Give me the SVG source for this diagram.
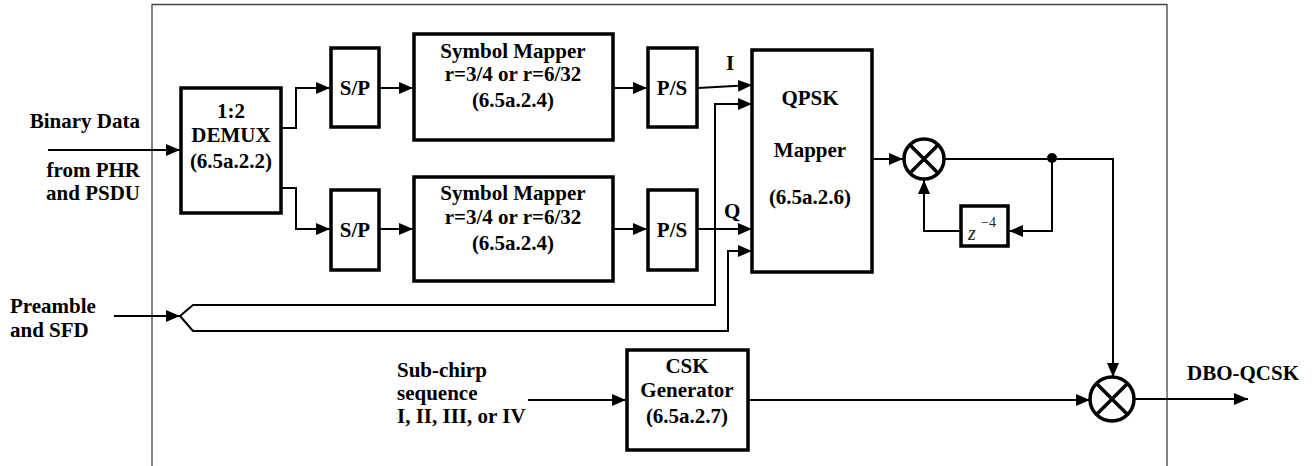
<svg xmlns="http://www.w3.org/2000/svg" width="1314" height="466" viewBox="0 0 1314 466">
<style>
.t{font-family:"Liberation Serif","Times New Roman",serif;font-weight:bold;font-size:21px;fill:#000}
.c{text-anchor:middle}
.b{fill:#fff;stroke:#000;stroke-width:3.5}
.w{fill:none;stroke:#000;stroke-width:2}
.m{fill:#fff;stroke:#000;stroke-width:3.5}
</style>
<defs>
<marker id="ah" viewBox="0 0 14 12" refX="14" refY="6" markerWidth="14" markerHeight="12" markerUnits="userSpaceOnUse" orient="auto">
<path d="M0,0 L14,6 L0,12 Z" fill="#000"/>
</marker>
</defs>
<path d="M152,466 V4.5 H1167 V466" fill="none" stroke="#444" stroke-width="1.3"/>
<g id="connectors">
<path class="w" d="M48,150 H180" marker-end="url(#ah)"/>
<path class="w" d="M282,128 H296 V88 H330" marker-end="url(#ah)"/>
<path class="w" d="M282,188 H296 V229 H330" marker-end="url(#ah)"/>
<path class="w" d="M380,88 H413" marker-end="url(#ah)"/>
<path class="w" d="M380,229 H413" marker-end="url(#ah)"/>
<path class="w" d="M614,88 H647" marker-end="url(#ah)"/>
<path class="w" d="M614,229 H647" marker-end="url(#ah)"/>
<path class="w" d="M698,88 L752,85" marker-end="url(#ah)"/>
<path class="w" d="M698,229 H752" marker-end="url(#ah)"/>
<path class="w" d="M114,316 H180" marker-end="url(#ah)"/>
<path class="w" d="M180,316 L193,305 H715 V104 H752" marker-end="url(#ah)"/>
<path class="w" d="M180,316 L193,331 H728 V251 H752" marker-end="url(#ah)"/>
<path class="w" d="M873,159 H903" marker-end="url(#ah)"/>
<path class="w" d="M945,159 H1113 V377" marker-end="url(#ah)"/>
<path class="w" d="M1052,159 V231 H1009" marker-end="url(#ah)"/>
<path class="w" d="M961,231 H924 V180" marker-end="url(#ah)"/>
<circle cx="1052" cy="158" r="5" fill="#000"/>
<path class="w" d="M528,400 H626" marker-end="url(#ah)"/>
<path class="w" d="M749,400 H1090" marker-end="url(#ah)"/>
<path class="w" d="M1135,399 H1248" marker-end="url(#ah)"/>
</g>
<g id="in-binary">
<text class="t" x="140" y="128" text-anchor="end">Binary Data</text>
<text class="t" x="140" y="177" text-anchor="end">from PHR</text>
<text class="t" x="140" y="200" text-anchor="end">and PSDU</text>
</g>
<g id="in-preamble">
<text class="t" x="10" y="313">Preamble</text>
<text class="t" x="10" y="337">and SFD</text>
</g>
<g id="in-subchirp">
<text class="t" x="397" y="377">Sub-chirp</text>
<text class="t" x="397" y="400">sequence</text>
<text class="t" x="397" y="423">I, II, III, or IV</text>
</g>
<g id="demux">
<rect class="b" x="181" y="88" width="100" height="125"/>
<text class="t c" x="231" y="118">1:2</text>
<text class="t c" x="231" y="142">DEMUX</text>
<text class="t c" x="231" y="168">(6.5a.2.2)</text>
</g>
<g id="sp1">
<rect class="b" x="331" y="48" width="48" height="79"/>
<text class="t c" x="355" y="95">S/P</text>
</g>
<g id="sp2">
<rect class="b" x="331" y="190" width="48" height="80"/>
<text class="t c" x="355" y="237">S/P</text>
</g>
<g id="symmap1">
<rect class="b" x="414" y="34" width="199" height="106"/>
<text class="t c" x="513" y="58">Symbol Mapper</text>
<text class="t c" x="513" y="81">r=3/4 or r=6/32</text>
<text class="t c" x="513" y="107">(6.5a.2.4)</text>
</g>
<g id="symmap2">
<rect class="b" x="414" y="177" width="199" height="104"/>
<text class="t c" x="513" y="200">Symbol Mapper</text>
<text class="t c" x="513" y="224">r=3/4 or r=6/32</text>
<text class="t c" x="513" y="250">(6.5a.2.4)</text>
</g>
<g id="ps1">
<rect class="b" x="648" y="48" width="49" height="79"/>
<text class="t c" x="672" y="95">P/S</text>
<text class="t" x="726" y="70">I</text>
</g>
<g id="ps2">
<rect class="b" x="648" y="190" width="49" height="80"/>
<text class="t c" x="672" y="237">P/S</text>
<text class="t" x="724" y="218">Q</text>
</g>
<g id="qpsk">
<rect class="b" x="752" y="50" width="120" height="222"/>
<text class="t c" x="810" y="105">QPSK</text>
<text class="t c" x="810" y="157">Mapper</text>
<text class="t c" x="810" y="204">(6.5a.2.6)</text>
</g>
<g id="mult1">
<circle class="m" cx="924" cy="159" r="20"/>
<path d="M910,145 L938,173 M938,145 L910,173" stroke="#000" stroke-width="3.5"/>
</g>
<g id="delay">
<rect class="b" x="961" y="206" width="47" height="40"/>
<text x="968" y="240" font-family="Liberation Serif,serif" font-style="italic" font-size="20" fill="#222">z</text>
<text x="981" y="227" font-family="Liberation Serif,serif" font-size="14" fill="#222">−4</text>
</g>
<g id="csk">
<rect class="b" x="627" y="350" width="121" height="100"/>
<text class="t c" x="687" y="373">CSK</text>
<text class="t c" x="687" y="397">Generator</text>
<text class="t c" x="687" y="423">(6.5a.2.7)</text>
</g>
<g id="mult2">
<circle class="m" cx="1112" cy="399" r="22"/>
<path d="M1097,384 L1127,414 M1127,384 L1097,414" stroke="#000" stroke-width="3.5"/>
</g>
<g id="out">
<text class="t" x="1187" y="380">DBO-QCSK</text>
</g>
</svg>
